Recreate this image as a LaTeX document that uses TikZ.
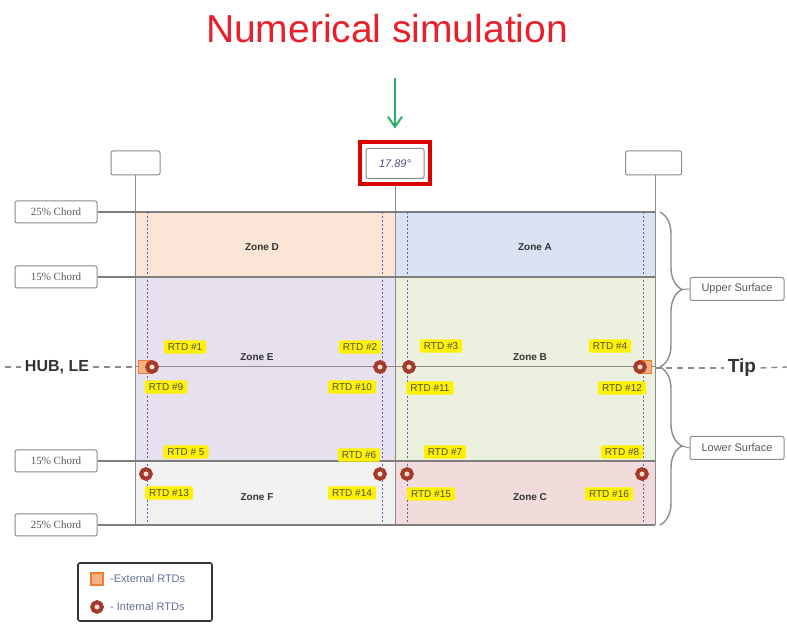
\documentclass[tikz,border=0pt]{standalone}
\usepackage{fontspec}
\setmainfont{Liberation Sans}
\newfontfamily\chordfont{Liberation Serif}
\usepackage{tikz}
\usetikzlibrary{positioning,arrows.meta,decorations.pathreplacing}
\definecolor{titlered}{HTML}{E8202C}
\definecolor{simgreen}{HTML}{2AAE68}
\definecolor{lngray}{HTML}{8C8C8C}
\definecolor{zoneD}{HTML}{FBE5D6}
\definecolor{zoneA}{HTML}{DAE3F3}
\definecolor{zoneE}{HTML}{E6E0EF}
\definecolor{zoneB}{HTML}{EBF1DE}
\definecolor{zoneF}{HTML}{F2F2F2}
\definecolor{zoneC}{HTML}{F2DCDB}
\definecolor{rtdred}{HTML}{A33A2C}
\definecolor{rtdext}{HTML}{F4B183}
\definecolor{rtdorange}{HTML}{ED7D31}
\definecolor{legtext}{HTML}{5F6E93}
\tikzset{
    labelbox/.style={rectangle, draw=lngray, fill=white, line width=0.5pt, rounded corners=1pt, inner sep=0pt, text=black!65},
    chordbox/.style={labelbox, minimum width=41pt, minimum height=11pt, font=\chordfont\fontsize{5.5}{6}\selectfont},
    surfbox/.style={labelbox, minimum width=47pt, minimum height=11.5pt, font=\fontsize{5.5}{6}\selectfont},
    blankbox/.style={labelbox, minimum height=12pt},
    zonelbl/.style={font=\bfseries\fontsize{5}{6}\selectfont, text=black!80},
    rtdlbl/.style={fill=yellow, text=black!70, font=\fontsize{5}{6}\selectfont, inner xsep=2pt, inner ysep=1.6pt, rounded corners=1pt},
    intrtd/.style={circle, draw=rtdred, fill=rtdext!40, line width=2pt, minimum size=4.8pt, inner sep=0pt},
    extrtd/.style={rectangle, draw=rtdorange, fill=rtdext, line width=0.8pt, minimum size=6.5pt, inner sep=0pt},
    conn/.style={draw=lngray, line width=0.5pt},
    divline/.style={draw=lngray!90!black, line width=0.9pt},
    innerln/.style={draw=lngray!70!blue, line width=0.4pt, dash pattern=on 1pt off 1pt},
    dashln/.style={draw=lngray, line width=0.7pt, dash pattern=on 3pt off 2.5pt},
    endtxt/.style={font=\bfseries, text=black!80, inner sep=2pt},
    brace/.style={draw=lngray, line width=0.7pt, decorate, decoration={brace, amplitude=11pt}},
    simarrow/.style={draw=simgreen, line width=1pt, -{Straight Barb[length=5pt, width=7pt]}},
}

\begin{document}
\begin{tikzpicture}[x=0.5pt, y=-0.5pt]
    \useasboundingbox (0,0) rectangle (787,624);

    % title and pointer
    \node[anchor=base, text=titlered, font=\fontsize{19.5}{22}\selectfont, inner sep=2pt] (title) at (387,43) {Numerical simulation};
    \node[rectangle, draw=red!85!black, line width=2pt, minimum width=35pt, minimum height=21pt] (redbox) at (395,163.5) {};
    \node[labelbox, minimum width=29pt, minimum height=15pt, font=\itshape\fontsize{5.5}{6}\selectfont, text=blue!30!black!70] (angle) at (395,163.5) {17.89°};
    \draw[simarrow, shorten <=15pt, shorten >=6pt] (redbox.north |- title.south) -- (redbox.north);

    % blade zones
    \coordinate (rtl) at (135,212);
    \coordinate (rbr) at (655,525);
    \fill[zoneD] (135,212) rectangle (395,277);
    \fill[zoneA] (395,212) rectangle (655,277);
    \fill[zoneE] (135,277) rectangle (395,461);
    \fill[zoneB] (395,277) rectangle (655,461);
    \fill[zoneF] (135,461) rectangle (395,525);
    \fill[zoneC] (395,461) rectangle (655,525);

    \draw[innerln] (147,212) -- (147,525);
    \draw[innerln] (382,212) -- (382,525);
    \draw[innerln] (407,212) -- (407,525);
    \draw[innerln] (643,212) -- (643,525);

    % top boxes and their lines
    \node[blankbox, minimum width=24.5pt] (boxL) at (135.5,163) {};
    \node[blankbox, minimum width=28pt] (boxR) at (653.5,163) {};
    \draw[conn] (boxL.south -| rtl) -- (rtl |- rbr);
    \draw[conn] (redbox.south) -- (395,525);
    \draw[conn] (boxR.south -| rbr) -- (rbr);

    % chord lines
    \node[chordbox] (ch25u) at (56,212) {25\% Chord};
    \node[chordbox] (ch15u) at (56,277) {15\% Chord};
    \node[chordbox] (ch15l) at (56,461) {15\% Chord};
    \node[chordbox] (ch25l) at (56,525) {25\% Chord};
    \draw[divline] (ch25u.east) -- (ch25u.east -| rbr);
    \draw[divline] (ch15u.east) -- (ch15u.east -| rbr);
    \draw[divline] (ch15l.east) -- (ch15l.east -| rbr);
    \draw[divline] (ch25l.east) -- (ch25l.east -| rbr);
    \draw[conn] (rtl |- 0,367) -- (rbr |- 0,367);

    % hub and tip
    \node[endtxt, font=\bfseries\fontsize{8}{9}\selectfont] (hub) at (57,367) {HUB, LE};
    \node[endtxt, font=\bfseries\fontsize{9.5}{10}\selectfont] (tip) at (742,368) {Tip};
    \coordinate (hubend) at (5,367);
    \coordinate (tipend) at (787,367);
    \draw[dashln] (hubend) -- (hub.west);
    \draw[dashln] (hub.east) -- (rtl |- hub.east);
    \draw[dashln] (rbr |- tip.west) -- (tip.west);
    \draw[dashln] (tip.east) -- (tipend);

    % surfaces
    \node[surfbox] (upper) at (737,289) {Upper Surface};
    \node[surfbox] (lower) at (737,448) {Lower Surface};
    \coordinate (uptip) at (682,289.5);
    \coordinate (lowtip) at (682,446);
    \draw[brace] (660,212) -- (660,367);
    \draw[brace] (660,367) -- (660,525);
    \draw[conn] (uptip) -- (upper.west);
    \draw[conn] (lowtip) -- (lower.west);

    % zone names
    \node[zonelbl] (zd) at (262,247) {Zone D};
    \node[zonelbl] (za) at (535,247) {Zone A};
    \node[zonelbl] (ze) at (257,357) {Zone E};
    \node[zonelbl] (zb) at (530,357) {Zone B};
    \node[zonelbl] (zf) at (257,497) {Zone F};
    \node[zonelbl] (zc) at (530,497) {Zone C};

    % sensors
    \node[extrtd] (ext1) at (145,367) {};
    \node[extrtd] (ext2) at (645,367) {};
    \node[intrtd] (s1) at (152,367) {};
    \node[intrtd] (s2) at (380,367) {};
    \node[intrtd] (s3) at (409,367) {};
    \node[intrtd] (s4) at (640,367) {};
    \node[intrtd] (s5) at (146,474) {};
    \node[intrtd] (s6) at (380,474) {};
    \node[intrtd] (s7) at (407,474) {};
    \node[intrtd] (s8) at (642,474) {};

    % sensor labels
    \node[rtdlbl] (r1) at (185,347) {RTD \#1};
    \node[rtdlbl] (r2) at (360,347) {RTD \#2};
    \node[rtdlbl] (r3) at (441,346) {RTD \#3};
    \node[rtdlbl] (r4) at (610,346) {RTD \#4};
    \node[rtdlbl] (r9) at (166,387) {RTD \#9};
    \node[rtdlbl] (r10) at (352,387) {RTD \#10};
    \node[rtdlbl] (r11) at (430,388) {RTD \#11};
    \node[rtdlbl] (r12) at (622,388) {RTD \#12};
    \node[rtdlbl] (r5) at (186,452) {RTD \# 5};
    \node[rtdlbl] (r6) at (359,455) {RTD \#6};
    \node[rtdlbl] (r7) at (445,452) {RTD \#7};
    \node[rtdlbl] (r8) at (622,452) {RTD \#8};
    \node[rtdlbl] (r13) at (169,493) {RTD \#13};
    \node[rtdlbl] (r14) at (352,493) {RTD \#14};
    \node[rtdlbl] (r15) at (431,494) {RTD \#15};
    \node[rtdlbl] (r16) at (609,494) {RTD \#16};

    % legend
    \node[rectangle, draw=black!80, line width=0.8pt, rounded corners=1pt, minimum width=67pt, minimum height=29pt] (legend) at (145,592) {};
    \node[extrtd, minimum size=6pt] (legext) at (97,579) {};
    \node[intrtd] (legint) at (97,607) {};
    \node[right=3pt of legext, font=\fontsize{5.5}{6}\selectfont, text=legtext, inner sep=0pt] (legexttxt) {-External RTDs};
    \node[right=3pt of legint, font=\fontsize{5.5}{6}\selectfont, text=legtext, inner sep=0pt] (leginttxt) {- Internal RTDs};
\end{tikzpicture}
\end{document}
